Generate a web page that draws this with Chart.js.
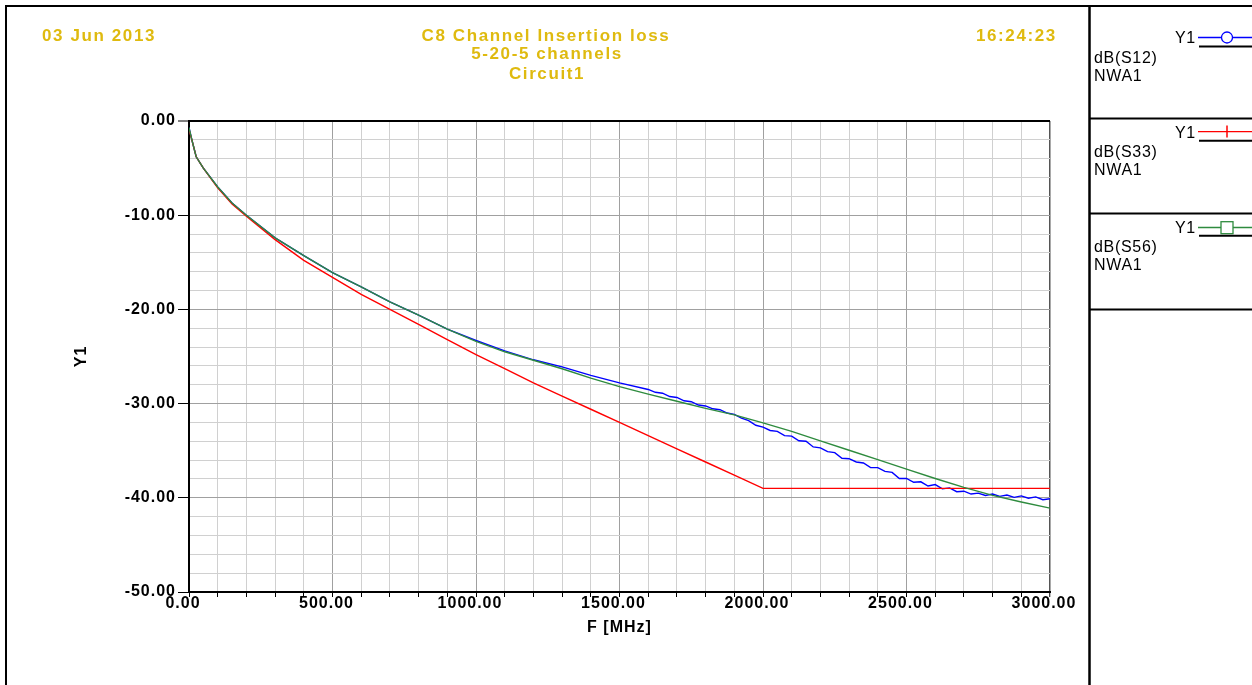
<!DOCTYPE html>
<html>
<head>
<meta charset="utf-8">
<script src="https://cdn.jsdelivr.net/npm/chart.js@4.4.1/dist/chart.umd.min.js"></script>
<style>
  html, body { margin: 0; padding: 0; background: #fff; }
  #wrap { position: relative; width: 1252px; height: 685px; overflow: hidden; }
  #c { position: absolute; left: 0; top: 0; }
  #frame { position: absolute; left: 0; top: 0; pointer-events: none; }
  .hdr { font-family: "Liberation Sans", Arial, sans-serif; font-weight: bold; font-size: 17px; fill: #dfba0f; letter-spacing: 1.6px; }
  .leg { font-family: "Liberation Sans", Arial, sans-serif; font-size: 16px; fill: #000; letter-spacing: 0.7px; }
</style>
</head>
<body>
<div id="wrap">
  <canvas id="c" width="1252" height="685"></canvas>
  <svg id="frame" width="1252" height="685" xmlns="http://www.w3.org/2000/svg">
    <!-- outer frame -->
    <line x1="5" y1="6" x2="1252" y2="6" stroke="#000" stroke-width="2"/>
    <line x1="6" y1="5" x2="6" y2="685" stroke="#000" stroke-width="2"/>
    <line x1="1089.5" y1="5" x2="1089.5" y2="685" stroke="#000" stroke-width="2.5"/>
    <line x1="1089" y1="118.5" x2="1252" y2="118.5" stroke="#000" stroke-width="2"/>
    <line x1="1089" y1="213.5" x2="1252" y2="213.5" stroke="#000" stroke-width="2"/>
    <line x1="1089" y1="309.5" x2="1252" y2="309.5" stroke="#000" stroke-width="2"/>

    <!-- header -->
    <text class="hdr" x="42" y="40.5">03 Jun 2013</text>
    <text class="hdr" x="546" y="40.5" text-anchor="middle">C8 Channel Insertion loss</text>
    <text class="hdr" x="547" y="59" text-anchor="middle">5-20-5 channels</text>
    <text class="hdr" x="547" y="78.5" text-anchor="middle">Circuit1</text>
    <text class="hdr" x="976" y="40.5">16:24:23</text>

    <!-- legend entry 1 -->
    <text class="leg" x="1175" y="43.3">Y1</text>
    <line x1="1198" y1="37.5" x2="1252" y2="37.5" stroke="#0000ff" stroke-width="1.3"/>
    <circle cx="1227" cy="37.5" r="5.5" fill="#fff" stroke="#0000ff" stroke-width="1.3"/>
    <line x1="1199" y1="46.5" x2="1252" y2="46.5" stroke="#000" stroke-width="2"/>
    <text class="leg" x="1094" y="62.7">dB(S12)</text>
    <text class="leg" x="1094" y="81">NWA1</text>

    <!-- legend entry 2 -->
    <text class="leg" x="1175" y="137.7">Y1</text>
    <line x1="1198" y1="131.7" x2="1252" y2="131.7" stroke="#ff0000" stroke-width="1.3"/>
    <line x1="1227" y1="125.5" x2="1227" y2="137.5" stroke="#ff0000" stroke-width="1.5"/>
    <line x1="1199" y1="140.7" x2="1252" y2="140.7" stroke="#000" stroke-width="2"/>
    <text class="leg" x="1094" y="156.7">dB(S33)</text>
    <text class="leg" x="1094" y="175">NWA1</text>

    <!-- legend entry 3 -->
    <text class="leg" x="1175" y="233.3">Y1</text>
    <line x1="1198" y1="227.5" x2="1252" y2="227.5" stroke="#2e8b3e" stroke-width="1.3"/>
    <rect x="1221" y="221.7" width="12" height="12" fill="#fff" stroke="#2e8b3e" stroke-width="1.3"/>
    <line x1="1199" y1="235.7" x2="1252" y2="235.7" stroke="#000" stroke-width="2"/>
    <text class="leg" x="1094" y="251.7">dB(S56)</text>
    <text class="leg" x="1094" y="269.5">NWA1</text>
  </svg>
</div>
<script>
// ---------- data ----------
const xAxisTitle = "F [MHz]";
const yAxisTitle = "Y1";

// dB(S12) – blue
const blueFreq = [0,10,25,50,100,150,200,300,400,500,600,700,800,900,1000,1100,1200,1300,1400,1500,1600,
  1625,1650,1675,1700,1725,1750,1775,1800,1825,1850,1875,1900,1925,1950,1975,2000,
  2025,2050,2075,2100,2125,2150,2175,2200,2225,2250,2275,2300,2325,2350,2375,2400,
  2425,2450,2475,2500,2525,2550,2575,2600,2625,2650,2675,2700,2725,2750,2775,2800,
  2825,2850,2875,2900,2925,2950,2975,3000];
const blueDb = [-0.7,-2.0,-3.8,-5.0,-7.0,-8.7,-10.0,-12.4,-14.3,-16.1,-17.6,-19.2,-20.6,-22.1,-23.3,-24.4,-25.35,-26.1,-27.0,-27.8,-28.5,
  -28.8,-28.9,-29.25,-29.35,-29.7,-29.8,-30.15,-30.25,-30.55,-30.65,-31.0,-31.15,-31.55,-31.8,-32.3,-32.5,
  -32.85,-32.95,-33.4,-33.45,-33.95,-34.0,-34.6,-34.7,-35.1,-35.2,-35.8,-35.85,-36.2,-36.3,-36.8,-36.8,
  -37.2,-37.3,-37.95,-37.95,-38.35,-38.3,-38.75,-38.6,-39.05,-38.95,-39.35,-39.3,-39.6,-39.5,-39.75,-39.6,
  -39.85,-39.7,-39.95,-39.8,-40.05,-39.9,-40.2,-40.1];

// dB(S33) – red
const redFreq = [0,10,25,50,100,150,200,300,400,500,600,700,800,900,1000,1100,1200,1300,1400,1500,1600,1700,1800,1900,2000,3000];
const redDb = [-0.9,-2.0,-3.8,-5.0,-7.1,-8.8,-10.1,-12.6,-14.8,-16.6,-18.4,-20.0,-21.6,-23.2,-24.8,-26.3,-27.8,-29.2,-30.6,-32.0,-33.4,-34.8,-36.2,-37.6,-39.0,-39.0];

// dB(S56) – green
const greenFreq = [0,10,25,50,100,150,200,300,400,500,600,700,800,900,1000,1100,1200,1300,1400,1500,1600,1700,1800,1900,2000,2100,2200,2300,2400,2500,2600,2700,2800,2900,3000];
const greenDb = [-0.7,-2.0,-3.8,-5.0,-7.0,-8.7,-10.0,-12.4,-14.3,-16.1,-17.6,-19.2,-20.6,-22.1,-23.4,-24.5,-25.4,-26.3,-27.3,-28.2,-29.0,-29.75,-30.5,-31.2,-32.05,-32.95,-33.95,-34.95,-35.95,-36.95,-37.95,-38.9,-39.75,-40.45,-41.1];

const seriesNames = ["dB(S12)", "dB(S33)", "dB(S56)"];

const xMin = 0, xMax = 3000, xStep = 100, xMajor = 500;
const yMin = -50, yMax = 0, yStep = 2, yMajor = 10;

// ---------- chart ----------
const pts = (xs, ys) => xs.map((x, i) => ({ x: x, y: ys[i] }));

const letterSpacingPlugin = {
  id: 'letterSpacing',
  beforeDraw(chart) { try { chart.ctx.letterSpacing = '1px'; } catch (e) {} },
  afterDraw(chart) { try { chart.ctx.letterSpacing = '0px'; } catch (e) {} }
};

const tickFont = { family: '"Liberation Sans", Arial, sans-serif', size: 16, weight: 'bold', lineHeight: 1.0 };
const titleFont = { family: '"Liberation Sans", Arial, sans-serif', size: 16, weight: 'bold', lineHeight: 1.2 };

new Chart(document.getElementById('c'), {
  type: 'line',
  data: {
    datasets: [
      { label: seriesNames[0], data: pts(blueFreq, blueDb), borderColor: '#0000ff', borderWidth: 1.4, pointRadius: 0, order: 2 },
      { label: seriesNames[1], data: pts(redFreq, redDb), borderColor: '#ff0000', borderWidth: 1.4, pointRadius: 0, order: 1 },
      { label: seriesNames[2], data: pts(greenFreq, greenDb), borderColor: '#2e8b3e', borderWidth: 1.4, pointRadius: 0, order: 0 }
    ]
  },
  plugins: [letterSpacingPlugin],
  options: {
    responsive: false,
    animation: false,
    events: [],
    layout: { padding: { top: 121, left: 72, right: 202, bottom: 43 } },
    plugins: { legend: { display: false }, title: { display: false }, tooltip: { enabled: false } },
    elements: { line: { tension: 0 } },
    scales: {
      x: {
        type: 'linear',
        min: xMin, max: xMax,
        afterFit(scale) { scale.height = 50; },
        ticks: {
          stepSize: xStep,
          autoSkip: false,
          maxRotation: 0,
          minRotation: 0,
          padding: -1,
          labelOffset: -6,
          color: '#000',
          font: tickFont,
          callback: (v) => (v % xMajor === 0 ? Number(v).toFixed(2) : '')
        },
        grid: {
          drawTicks: true,
          tickLength: 5,
          tickColor: '#000',
          tickWidth: 1,
          color: (ctx) => {
            const v = ctx.tick ? ctx.tick.value : 0;
            if (v === xMax) return '#555';
            return v % xMajor === 0 ? '#a0a0a0' : '#d0d0d0';
          },
          lineWidth: (ctx) => {
            const v = ctx.tick ? ctx.tick.value : 0;
            return v === xMax ? 1.5 : 1;
          }
        },
        border: { display: true, color: '#000', width: 2 },
        title: { display: true, text: xAxisTitle, color: '#000', font: titleFont, padding: { top: 0, bottom: 5 } }
      },
      y: {
        type: 'linear',
        min: yMin, max: yMax,
        afterFit(scale) { scale.width = 117; },
        ticks: {
          stepSize: yStep,
          autoSkip: false,
          padding: 2,
          color: '#000',
          font: tickFont,
          callback: (v) => (v % yMajor === 0 ? Number(v).toFixed(2) : '')
        },
        grid: {
          drawTicks: true,
          tickLength: 11,
          tickWidth: 1,
          tickColor: (ctx) => {
            const v = ctx.tick ? ctx.tick.value : 0;
            return v % yMajor === 0 ? '#000' : 'rgba(0,0,0,0)';
          },
          color: (ctx) => {
            const v = ctx.tick ? ctx.tick.value : 0;
            if (v === yMax) return '#000';
            return v % yMajor === 0 ? '#a0a0a0' : '#d0d0d0';
          },
          lineWidth: (ctx) => {
            const v = ctx.tick ? ctx.tick.value : 0;
            return v === yMax ? 2 : 1;
          }
        },
        border: { display: true, color: '#000', width: 2 },
        title: { display: true, text: yAxisTitle, color: '#000', font: titleFont, padding: { top: 0, bottom: 0 } }
      }
    }
  }
});
</script>
</body>
</html>
